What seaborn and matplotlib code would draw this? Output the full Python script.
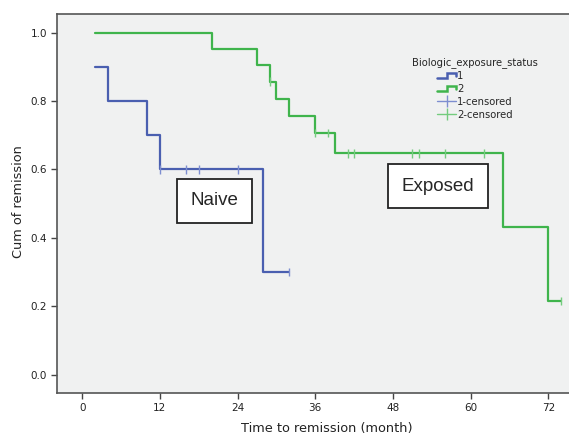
import numpy as np
import pandas as pd
import matplotlib
matplotlib.use("Agg")
import matplotlib.pyplot as plt
import seaborn as sns
from matplotlib.lines import Line2D
from matplotlib.legend_handler import HandlerBase

# ---------------------------------------------------------------------------
# Data
# ---------------------------------------------------------------------------
naive_time = [2, 4, 10, 12, 28, 32]
naive_surv = [0.9, 0.8, 0.7, 0.6, 0.3, 0.3]
naive_cens_time = [12, 16, 18, 24, 32]
naive_cens_surv = [0.6, 0.6, 0.6, 0.6, 0.3]

exposed_time = [2, 20, 27, 29, 30, 32, 36, 39, 65, 72, 74]
exposed_surv = [1.0, 0.952, 0.905, 0.857, 0.807, 0.756, 0.706, 0.647, 0.432, 0.216, 0.216]
exposed_cens_time = [29, 36, 38, 41, 42, 51, 52, 56, 62, 74]
exposed_cens_surv = [0.857, 0.706, 0.706, 0.647, 0.647, 0.647, 0.647, 0.647, 0.647, 0.216]

x_ticks = [0, 12, 24, 36, 48, 60, 72]
y_ticks = [0.0, 0.2, 0.4, 0.6, 0.8, 1.0]

BLUE = "#4a5fb0"
GREEN = "#3fb44c"
BLUE_C = "#7d8ed0"
GREEN_C = "#74cc7e"

curves = pd.DataFrame({
    "time": naive_time + exposed_time,
    "surv": naive_surv + exposed_surv,
    "group": ["1"] * len(naive_time) + ["2"] * len(exposed_time),
})
censors = pd.DataFrame({
    "time": naive_cens_time + exposed_cens_time,
    "surv": naive_cens_surv + exposed_cens_surv,
    "group": ["1"] * len(naive_cens_time) + ["2"] * len(exposed_cens_time),
})


class HandlerStep(HandlerBase):
    # little SPSS-style step glyph for the legend
    def create_artists(self, legend, orig, xd, yd, width, height, fontsize, trans):
        xs = np.array([0, 0.5, 0.5, 1.0, 1.0]) * width - xd
        ys = np.array([0.15, 0.15, 0.85, 0.85, 0.45]) * height - yd
        ln = Line2D(xs, ys, color=orig.get_color(), lw=orig.get_linewidth(),
                    solid_joinstyle="miter", transform=trans)
        return [ln]


sns.set_theme(style="white")
plt.rcParams["font.family"] = ["DejaVu Sans"]

fig = plt.figure(figsize=(5.69, 4.37), dpi=100)
ax = fig.add_axes([0.0996, 0.1007, 0.9004, 0.8673])
ax.set_facecolor("#f0f1f1")

sns.lineplot(data=curves, x="time", y="surv", hue="group",
             palette={"1": BLUE, "2": GREEN}, drawstyle="steps-post",
             estimator=None, sort=True, lw=1.6, legend=False, ax=ax)
sns.scatterplot(data=censors, x="time", y="surv", hue="group",
                palette={"1": BLUE_C, "2": GREEN_C}, marker="|", s=36,
                linewidth=1.0, legend=False, ax=ax, zorder=3)

ax.set_xlim(-3.95, 75.2)
ax.set_ylim(-0.0535, 1.0547)
ax.set_xticks(x_ticks)
ax.set_yticks(y_ticks)
ax.set_yticklabels([f"{v:.1f}" for v in y_ticks])
ax.tick_params(axis="both", direction="out", length=4.5, width=1.0,
               color="#444444", labelsize=7.5, labelcolor="#222222", pad=2.5)
ax.tick_params(axis="x", bottom=True, length=4.5)
ax.tick_params(axis="y", left=True)

for side in ["left", "bottom", "top"]:
    ax.spines[side].set_color("#555555")
    ax.spines[side].set_linewidth(1.2)
ax.spines["right"].set_visible(False)

ax.set_xlabel("Time to remission (month)", fontsize=9.3, color="#222222")
ax.set_ylabel("Cum of remission", fontsize=9.3, color="#222222")
ax.xaxis.set_label_coords((327 - 56.7) / 512.3, -(422 - 393) / 379)
ax.yaxis.set_label_coords(-(56.7 - 25) / 512.3, (393 - 201.6) / 379)

box = dict(boxstyle="square,pad=0.72", facecolor="white", edgecolor="#222222", lw=1.3)
ax.text(20.4, 0.509, "Naive", ha="center", va="center", fontsize=13.5,
        family="Liberation Sans", bbox=box)
ax.text(55.0, 0.551, "Exposed", ha="center", va="center", fontsize=13.5,
        family="Liberation Sans", bbox=box)

handles = [
    Line2D([], [], color=BLUE, lw=1.8),
    Line2D([], [], color=GREEN, lw=1.8),
    Line2D([], [], color=BLUE_C, lw=1.0, marker="|", ms=8, mew=1.0),
    Line2D([], [], color=GREEN_C, lw=1.0, marker="|", ms=8, mew=1.0),
]
labels = ["1", "2", "1-censored", "2-censored"]
leg = ax.legend(handles, labels, title="Biologic_exposure_status",
                loc="upper center", bbox_to_anchor=(0.8165, 0.905),
                frameon=False, fontsize=7.2, title_fontsize=7.2,
                handlelength=1.9, handletextpad=0.1, labelspacing=0.3,
                borderpad=0.2,
                handler_map={handles[0]: HandlerStep(), handles[1]: HandlerStep()})

fig.savefig("out.png", dpi=100, facecolor="white")
